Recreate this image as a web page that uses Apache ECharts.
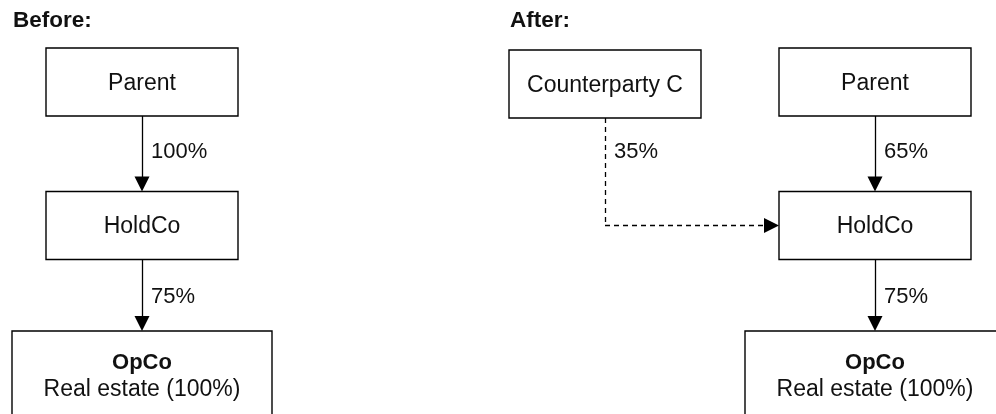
<!DOCTYPE html>
<html>
<head>
<meta charset="utf-8">
<title>Ownership structure before and after</title>
<script src="https://cdn.jsdelivr.net/npm/echarts@6/dist/echarts.min.js"></script>
<style>
  html, body { margin: 0; padding: 0; background: #fff; }
  #chart { width: 996px; height: 414px; }
</style>
</head>
<body>
<div id="chart"></div>
<script>
// panel titles
var panelTitles = ['Before:', 'After:'];

// entities: 0-2 before, 3-6 after
var nodeNames = ['Parent', 'HoldCo', 'OpCo', 'Counterparty C', 'Parent', 'HoldCo', 'OpCo'];
var nodeNotes = ['', '', 'Real estate (100%)', '', '', '', 'Real estate (100%)'];

// ownership links
var linkFrom = [0, 1, 3, 4, 5];
var linkTo = [1, 2, 5, 5, 6];
var linkShares = ['100%', '75%', '35%', '65%', '75%'];

// layout (page pixels, axes are 1:1 with the canvas)
var titleX = [13, 510];
var nodeX = [142, 142, 142, 605, 875, 875, 875];
var nodeY = [82, 225.5, 381, 84, 82, 225.5, 381];
var nodeW = [192, 192, 260, 192, 192, 192, 260];
var nodeH = [68, 68, 100, 68, 68, 68, 100];
var labelY = [150, 295, 150, 150, 295];
var dashedLinks = [2];

var FONT = '"Liberation Sans", Arial, sans-serif';
var INK = '#111';
var ARROW = 15;
var NUDGE = 1.5; // glyphs sit a bit high with verticalAlign middle

var chart = echarts.init(document.getElementById('chart'));

// build connector segments
var segments = [];
for (var k = 0; k < linkFrom.length; k++) {
	var a = linkFrom[k], b = linkTo[k];
	var dashed = dashedLinks.indexOf(k) >= 0;
	var style = { type: dashed ? [5, 4] : 'solid' };
	var startY = nodeY[a] + nodeH[a] / 2;

	if (nodeX[a] === nodeX[b]) {
		segments.push({
			coords: [[nodeX[a], startY], [nodeX[b], nodeY[b] - nodeH[b] / 2 - ARROW / 2]],
			lineStyle: style
		});
	} else {
		// elbow: down, then across into the side of the target
		segments.push({
			coords: [[nodeX[a], startY], [nodeX[a], nodeY[b]]],
			lineStyle: style,
			symbol: ['none', 'none']
		});
		segments.push({
			coords: [[nodeX[a], nodeY[b]], [nodeX[b] - nodeW[b] / 2 - ARROW / 2, nodeY[b]]],
			lineStyle: style
		});
	}
}

var boxData = nodeNames.map(function (n, i) {
	return [nodeX[i], nodeY[i], nodeW[i], nodeH[i]];
});

var labelData = linkShares.map(function (s, k) {
	return [nodeX[linkFrom[k]] + 9, labelY[k]];
});

var option = {
	animation: false,
	title: panelTitles.map(function (t, i) {
		return {
			text: t,
			left: titleX[i],
			top: 9,
			padding: 0,
			textStyle: { fontFamily: FONT, fontSize: 22.5, fontWeight: 'bold', color: INK }
		};
	}),
	grid: { left: 0, right: 0, top: 0, bottom: 0 },
	xAxis: { type: 'value', min: 0, max: 996, show: false },
	yAxis: { type: 'value', min: 0, max: 414, inverse: true, show: false },
	series: [
		{
			type: 'lines',
			coordinateSystem: 'cartesian2d',
			silent: true,
			symbol: ['none', 'triangle'],
			symbolSize: [15, ARROW],
			lineStyle: { color: '#000', width: 1.3, opacity: 1, curveness: 0 },
			itemStyle: { color: '#000' },
			data: segments,
			z: 2
		},
		{
			type: 'custom',
			silent: true,
			data: boxData,
			z: 3,
			renderItem: function (params, api) {
				var i = params.dataIndex;
				var c = api.coord([api.value(0), api.value(1)]);
				var s = api.size([api.value(2), api.value(3)]);
				var w = Math.abs(s[0]), h = Math.abs(s[1]);
				var x0 = c[0] - w / 2, y0 = c[1] - h / 2;
				var kids = [{
					type: 'rect',
					shape: { x: x0, y: y0, width: w, height: h },
					style: { fill: '#fff', stroke: '#000', lineWidth: 1.4 }
				}];
				if (nodeNotes[i]) {
					kids.push({
						type: 'text',
						style: { x: c[0], y: y0 + 30 + NUDGE, text: nodeNames[i], fill: INK, font: 'bold 22px ' + FONT, align: 'center', verticalAlign: 'middle' }
					});
					kids.push({
						type: 'text',
						style: { x: c[0], y: y0 + 57 + NUDGE, text: nodeNotes[i], fill: INK, font: '23px ' + FONT, align: 'center', verticalAlign: 'middle' }
					});
				} else {
					kids.push({
						type: 'text',
						style: { x: c[0], y: c[1] + NUDGE, text: nodeNames[i], fill: INK, font: '23px ' + FONT, align: 'center', verticalAlign: 'middle' }
					});
				}
				return { type: 'group', children: kids };
			}
		},
		{
			type: 'custom',
			silent: true,
			data: labelData,
			z: 4,
			renderItem: function (params, api) {
				var p = api.coord([api.value(0), api.value(1)]);
				return {
					type: 'text',
					style: { x: p[0], y: p[1] + NUDGE, text: linkShares[params.dataIndex], fill: INK, font: '22px ' + FONT, align: 'left', verticalAlign: 'middle' }
				};
			}
		}
	]
};

chart.setOption(option);
</script>
</body>
</html>
